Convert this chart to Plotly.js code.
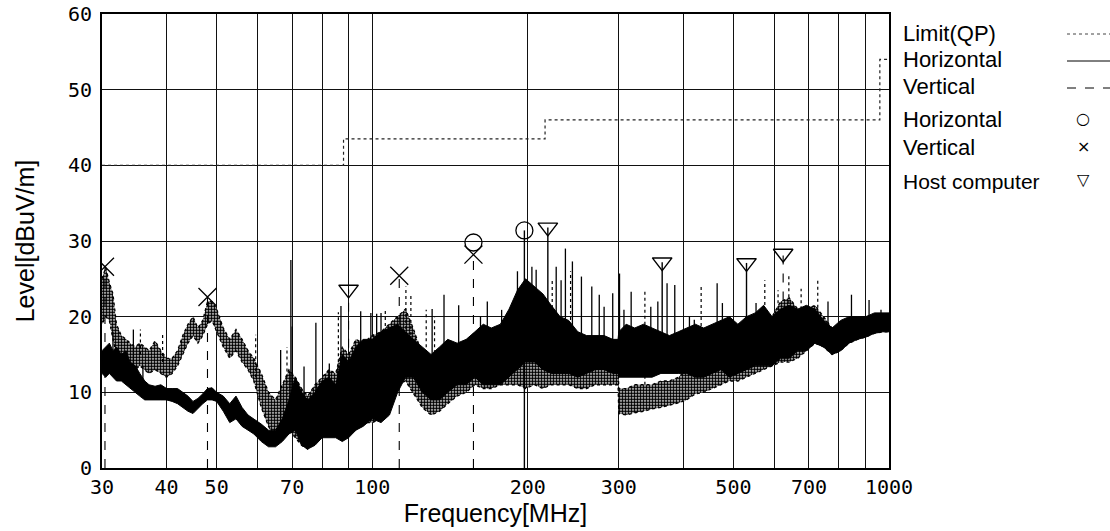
<!DOCTYPE html>
<html>
<head>
<meta charset="utf-8">
<script src="https://cdn.plot.ly/plotly-3.0.1.min.js"></script>
<style>
  html, body { margin: 0; padding: 0; background: #fff; }
  #chart { width: 1110px; height: 531px; }
</style>
</head>
<body>
<div id="chart"></div>
<script>
// ---------- data ----------
const freq = [30, 30.5, 31, 31.5, 32, 32.7, 33.4, 34, 34.8, 35.5, 36.3, 37, 38, 39, 40, 41, 42, 43, 44, 45,
  46, 47, 48, 49, 50, 51.5, 53, 54.5, 56, 57.5, 59, 61, 63, 65, 67, 69, 71, 73, 75, 77.5,
  80, 82.5, 85, 87.5, 90, 93, 96, 100, 104, 108, 112, 116, 120, 125, 130, 135, 140, 146, 152, 158,
  164, 170, 177, 184, 191, 198, 206, 214, 222, 231, 240, 250, 260, 270, 281, 292, 299, 300, 310, 322,
  335, 348, 362, 376, 391, 406, 422, 438, 455, 473, 491, 510, 530, 551, 572, 594, 617, 641, 666, 692,
  719, 747, 776, 806, 837, 869, 902, 937, 973, 1000];

// Horizontal polarization sweep (band low / high)
const horLo = [12.5, 12, 12.5, 12, 11.5, 11.5, 11, 10.5, 10, 9.5, 9, 9, 9, 9, 9, 8.8, 8.5, 8, 7.5, 7.2,
  7.8, 8.5, 9, 9, 8.8, 7.5, 6, 6.5, 5.5, 5, 4.5, 3.5, 2.8, 2.8, 3.5, 4.5, 5, 3, 2.5, 3,
  4, 4, 4, 3.5, 4, 5, 5.5, 6.5, 6, 7, 10, 12, 12, 10, 9, 9, 10, 11, 11, 12,
  11, 11, 11, 12, 13, 14, 14, 13, 12.5, 12.5, 12.5, 12, 12.5, 13, 13, 12.5, 12.5, 12, 12, 12,
  12, 12, 12.5, 12.5, 12.5, 12.5, 12, 12, 12.5, 13, 12, 12.5, 13, 13.5, 13.5, 13.5, 14.5, 14.5, 15.5, 15.5,
  16.5, 16, 15, 15.5, 16.5, 17, 17.3, 17.8, 18, 18];
const horHi = [15.5, 16, 16.5, 15.5, 16, 15, 15.5, 14, 13.5, 12.5, 11.5, 11, 10.8, 11, 10.5, 10.5, 10.5, 10, 9.5, 8.8,
  9.2, 9.8, 10.5, 10.6, 10, 9.5, 8.5, 9.5, 8, 7, 6.5, 5.8, 5, 5, 6.5, 9, 12, 10, 9, 10,
  11.5, 12, 11, 15, 14, 16, 17, 17, 18, 18.5, 19, 18, 17, 16, 15, 16, 17, 16.5, 17, 18,
  19, 18.5, 19, 21, 23.5, 25, 24, 23, 21.5, 20, 19.5, 18, 17.5, 17.5, 17.5, 17, 17, 18, 19, 18.5,
  19, 18.5, 18, 17.5, 18, 18.5, 19, 18.5, 19, 19.5, 20, 19, 20, 20.5, 21.5, 20, 21, 21.5, 21, 21.5,
  21, 19.5, 18.5, 19.5, 20, 20, 20, 20.5, 20.5, 20.5];

// Vertical polarization sweep (band low / high)
const verLo = [19, 20, 19.5, 17, 15, 14.5, 14, 13.5, 13, 13.5, 13, 12.5, 13, 12.5, 12, 12.5, 13.5, 15, 16.5, 17.5,
  16.5, 17.5, 19, 19.5, 18, 16, 14.5, 15.5, 14, 13, 11.5, 8, 5.5, 4, 4.5, 5, 4, 3, 2.5, 3.5,
  5, 4.5, 4.5, 5, 4.5, 5, 6, 6, 6.5, 7.5, 11, 11.5, 10, 8, 7, 7.5, 8.5, 9.5, 10, 11,
  10.5, 10.5, 11, 11, 11, 10.5, 11, 10.5, 11, 11, 11, 10.5, 10.5, 11, 11, 11, 11, 7.2, 7, 7.3,
  7.5, 7.8, 8, 8.3, 8.6, 9, 9.8, 10, 10.5, 11, 11.5, 11.5, 12, 12.5, 13, 13.5, 14, 14, 14.5, 15.5,
  16.5, 16, 15, 15.5, 16.5, 17, 17.3, 17.8, 18, 18];
const verHi = [25, 26.5, 24.5, 23, 19, 17.5, 17, 16.5, 16, 16.5, 16, 15.5, 16.8, 15.5, 14.5, 14.5, 15.5, 17.5, 19, 20,
  18.5, 19.5, 22, 22, 21, 18.5, 17, 18.3, 17, 15.5, 14.5, 12.5, 10, 9, 11, 13, 12, 10.5, 9.5, 11,
  12, 13, 12.5, 16, 15, 17, 16.5, 17.5, 18, 19, 20, 21, 18.5, 15, 14, 13, 14, 15, 16, 17,
  16.5, 16, 16, 17, 18, 16, 15.5, 14.5, 15, 14.5, 14, 14, 14, 13.5, 14, 14, 14, 10.5, 10.5, 11,
  11, 11, 11.5, 11.5, 12, 13, 14, 14, 15, 15.5, 16, 17, 18, 19, 20, 20, 22, 22.5, 21, 21,
  21.5, 20, 18.5, 19, 19.5, 19.5, 19.5, 20, 20, 20];

// isolated spikes above the bands
const horSpikeFreq = [31.5, 34.5, 36, 66.5, 69.6, 70, 73.8, 77.8, 82.6, 87, 95, 99.4, 102, 104, 130.6, 137.7,
  147, 162, 167, 178, 182, 191, 203.7, 207.6, 227, 232, 236.5, 244, 254, 266, 275, 281,
  292, 301, 307, 317, 346, 357, 372, 385, 411, 420, 465, 476, 553, 762, 846, 915, 965];
const horSpikeBase = [14, 13, 11, 6, 6, 8, 6, 6, 8, 8, 12, 10, 14, 12, 12, 14,
  14, 15, 15, 15, 15, 17, 18, 18, 17, 17, 16, 16, 15, 15, 15, 15,
  15, 15, 15, 15, 15, 15, 15, 15, 15, 15, 15, 15, 16, 18, 18, 18, 18];
const horSpikeTop = [18, 18.3, 13.5, 15.6, 27.5, 18.7, 13.4, 19.2, 13.8, 21.4, 20.7, 20.5, 20.4, 20.5, 21, 22.9,
  21.5, 20, 22, 20.9, 19.6, 26, 26.6, 26.2, 26.6, 24.8, 29, 27.3, 25.3, 24, 22.9, 21.3,
  23.1, 25.7, 20.9, 23.3, 21.3, 22, 24.4, 24.2, 20, 19.6, 24.4, 21.8, 21.8, 22, 22.9, 22.2, 20.9];
const verSpikeFreq = [35.6, 39.3, 59.5, 68.4, 86, 106, 116.2, 118.8, 127.2, 132, 223, 242, 337, 433, 575, 610,
  640, 676, 728];
const verSpikeBase = [15, 14, 12, 8, 10, 14, 16, 16, 12, 12, 14, 14, 11, 14, 16, 17,
  17, 17, 18];
const verSpikeTop = [18.3, 17.9, 17.6, 16, 20.6, 21.1, 24, 23.1, 20.9, 20, 25.1, 26, 23.7, 24.2, 24.8, 23.5,
  25.5, 23.7, 24.8];

// limit line (QP)
const limitFreq = [30, 88, 216, 960, 1000];
const limitLevel = [40, 43.5, 46, 54, 54];

// marked peaks
const horMarkFreq = [157, 197];
const horMarkLevel = [29.8, 31.4];
const horStemBase = [null, 0];
const verMarkFreq = [30.4, 48.0, 112.8, 157];
const verMarkLevel = [26.6, 22.6, 25.4, 28.2];
const verStemBase = [0, 0, 0, 0];
const hostFreq = [90, 218.7, 364, 530, 624];
const hostLevel = [23.6, 31.8, 27.2, 27.1, 28.35];
const hostPol = ['V', 'H', 'H', 'H', 'V'];
const hostStemBase = [4, 20, 14, 14, 15];

// axis ticks
const xTickVals = [30, 40, 50, 60, 70, 80, 90, 100, 200, 300, 400, 500, 600, 700, 800, 900, 1000];
const xTickText = ['30', '40', '50', '', '70', '', '', '100', '200', '300', '', '500', '', '700', '', '', '1000'];
const yTickVals = [0, 10, 20, 30, 40, 50, 60];

// legend entries
const legendNames = ['Limit(QP)', 'Horizontal', 'Vertical', 'Horizontal', 'Vertical', 'Host computer'];

// ---------- helpers ----------
function band(lo, hi) {
  return { x: freq.concat(freq.slice().reverse()), y: hi.concat(lo.slice().reverse()) };
}
function segs(fs, base, top) {
  const x = [], y = [];
  fs.forEach((f, i) => {
    if (base[i] === null || base[i] === undefined) return;
    x.push(f, f, null); y.push(base[i], top[i], null);
  });
  return { x, y };
}

const vb = band(verLo, verHi);
const hb = band(horLo, horHi);
const hs = segs(horSpikeFreq, horSpikeBase, horSpikeTop);
const vs = segs(verSpikeFreq, verSpikeBase, verSpikeTop);

const hostStemH = segs(hostFreq, hostStemBase.map((b, i) => hostPol[i] === 'H' ? b : null), hostLevel);
const hostStemV = segs(hostFreq, hostStemBase.map((b, i) => hostPol[i] === 'V' ? b : null), hostLevel);
const horStem = segs(horMarkFreq, horStemBase, horMarkLevel);
const verStem = segs(verMarkFreq, verStemBase, verMarkLevel);

const K = '#000';
const traces = [
  { x: limitFreq, y: limitLevel, mode: 'lines', line: { shape: 'hv', dash: 'dot', width: 1.2, color: '#222' }, hoverinfo: 'skip' },
  { x: vb.x, y: vb.y, mode: 'lines', fill: 'toself', fillcolor: 'rgba(0,0,0,0)',
    fillpattern: { shape: '.', fgcolor: K, bgcolor: '#fff', size: 3, solidity: 0.7 },
    line: { color: K, width: 1.3, dash: 'dot' }, hoverinfo: 'skip' },
  { x: hb.x, y: hb.y, mode: 'lines', fill: 'toself', fillcolor: K, line: { color: K, width: 1 }, hoverinfo: 'skip' },
  { x: vs.x, y: vs.y, mode: 'lines', line: { color: K, width: 1.2, dash: 'dot' }, hoverinfo: 'skip' },
  { x: hs.x, y: hs.y, mode: 'lines', line: { color: K, width: 1.3 }, hoverinfo: 'skip' },
  { x: verStem.x, y: verStem.y, mode: 'lines', line: { color: K, width: 1.1, dash: 'dash' }, hoverinfo: 'skip' },
  { x: hostStemV.x, y: hostStemV.y, mode: 'lines', line: { color: K, width: 1.1, dash: 'dash' }, hoverinfo: 'skip' },
  { x: horStem.x, y: horStem.y, mode: 'lines', line: { color: K, width: 1.4 }, hoverinfo: 'skip' },
  { x: hostStemH.x, y: hostStemH.y, mode: 'lines', line: { color: K, width: 1.4 }, hoverinfo: 'skip' },
  { x: horMarkFreq, y: horMarkLevel, mode: 'markers', marker: { symbol: 'circle-open', size: 17, color: K, line: { width: 1.3 } }, hoverinfo: 'skip' },
  { x: verMarkFreq, y: verMarkLevel, mode: 'markers', marker: { symbol: 'x-thin-open', size: 18, color: K, line: { width: 1.3, color: K } }, hoverinfo: 'skip' },
  { x: hostFreq, y: hostLevel, mode: 'markers', marker: { symbol: 'triangle-down-open', size: 17, color: K, line: { width: 1.4 } }, hoverinfo: 'skip' }
];

// ---------- layout ----------
const PL = 102, PR = 889, PT = 14, PB = 468;
const px = x => (x - PL) / (PR - PL);
const py = y => (PB - y) / (PB - PT);

const legY = [33, 59.5, 86, 119, 148, 181];
const annotations = legendNames.map((t, i) => ({
  xref: 'paper', yref: 'paper', x: px(901), y: py(legY[i]), xanchor: 'left', yanchor: 'middle',
  text: t, showarrow: false,
  font: { family: 'Liberation Sans, Arial, sans-serif', size: i === 5 ? 21 : 22, color: '#000' }
}));
const symText = ['○', '×', '▽'];
const symY = [118, 146, 179];
symText.forEach((s, i) => annotations.push({
  xref: 'paper', yref: 'paper', x: px(1083), y: py(symY[i]), xanchor: 'center', yanchor: 'middle',
  text: s, showarrow: false, font: { family: 'DejaVu Sans, sans-serif', size: 16, color: '#000' }
}));

const shapes = [
  { type: 'line', xref: 'paper', yref: 'paper', x0: px(1067), x1: px(1110), y0: py(34), y1: py(34), line: { color: '#444', width: 1, dash: 'dot' } },
  { type: 'line', xref: 'paper', yref: 'paper', x0: px(1067), x1: px(1110), y0: py(61), y1: py(61), line: { color: K, width: 1 } },
  { type: 'line', xref: 'paper', yref: 'paper', x0: px(1067), x1: px(1110), y0: py(88), y1: py(88), line: { color: K, width: 1, dash: 'dash' } }
];

const layout = {
  width: 1110, height: 531,
  margin: { l: PL, r: 1110 - PR, t: PT, b: 531 - PB },
  paper_bgcolor: '#fff', plot_bgcolor: '#fff',
  showlegend: false,
  xaxis: {
    type: 'log', range: [Math.log10(30), Math.log10(1000)],
    tickmode: 'array', tickvals: xTickVals, ticktext: xTickText,
    showgrid: true, gridcolor: '#111', gridwidth: 1,
    showline: true, mirror: true, linecolor: K, linewidth: 2,
    ticks: '', zeroline: false,
    tickfont: { family: 'DejaVu Sans Mono, monospace', size: 20, color: K },
    title: { text: 'Frequency[MHz]', font: { family: 'Liberation Sans, Arial, sans-serif', size: 25, color: K }, standoff: 4 }
  },
  yaxis: {
    range: [0, 60], tickmode: 'array', tickvals: yTickVals,
    showgrid: true, gridcolor: '#111', gridwidth: 1,
    showline: true, mirror: true, linecolor: K, linewidth: 2,
    ticks: '', zeroline: false, ticklabelstandoff: 4,
    tickfont: { family: 'DejaVu Sans Mono, monospace', size: 20, color: K },
    title: { text: 'Level[dBuV/m]', font: { family: 'Liberation Sans, Arial, sans-serif', size: 25, color: K }, standoff: 26 }
  },
  annotations, shapes
};

Plotly.newPlot('chart', traces, layout, { displayModeBar: false, staticPlot: true });
</script>
</body>
</html>
